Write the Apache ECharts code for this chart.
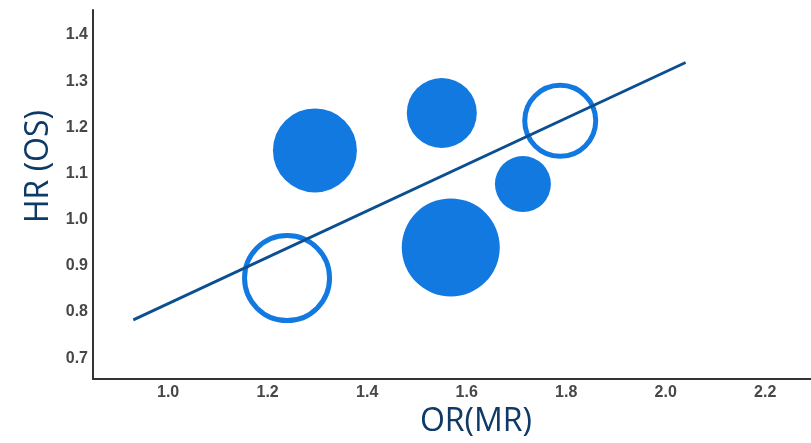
<!DOCTYPE html>
<html>
<head>
<meta charset="utf-8">
<script src="https://cdn.jsdelivr.net/npm/echarts@6/dist/echarts.min.js"></script>
<style>
  html, body { margin: 0; padding: 0; background: #ffffff; }
  #chart { width: 811px; height: 443px; }
</style>
</head>
<body>
<div id="chart"></div>
<script>
// Study-level estimates: OR for major response vs HR for overall survival
const studyOR = [1.295, 1.550, 1.713, 1.568, 1.788, 1.239];
const studyHR = [1.150, 1.231, 1.077, 0.940, 1.214, 0.8735];
// bubble diameter reflects study weight
const studyWeight = [84, 70, 56, 98, 76, 90];
// true = hollow marker
const studyHollow = [false, false, false, false, true, true];

// fitted regression line endpoints
const fitOR = [0.93, 2.04];
const fitHR = [0.783, 1.3405];

// axis tick labels
const xTicks = [1.0, 1.2, 1.4, 1.6, 1.8, 2.0, 2.2];
const yTicks = [0.7, 0.8, 0.9, 1.0, 1.1, 1.2, 1.3, 1.4];

const BLUE = '#1279e1';
const RING = 5;

const filledPts = [];
const hollowPts = [];
studyOR.forEach((x, i) => {
  const pt = [x, studyHR[i], studyWeight[i]];
  (studyHollow[i] ? hollowPts : filledPts).push(pt);
});

const tickLabel = {
  fontFamily: 'Liberation Sans, Arial, sans-serif',
  fontWeight: 'bold',
  fontSize: 16,
  color: '#474747',
  formatter: v => Number(v).toFixed(1)
};

const chart = echarts.init(document.getElementById('chart'), null, { renderer: 'canvas' });
chart.setOption({
  animation: false,
  backgroundColor: '#ffffff',
  grid: { left: 93, right: 0, top: 10, bottom: 58, containLabel: false },
  xAxis: {
    type: 'value',
    min: 0.849,
    max: 2.292,
    name: 'OR(MR)',
    nameLocation: 'middle',
    nameGap: 27,
    nameTextStyle: {
      fontFamily: 'Open Sans, Noto Sans, sans-serif',
      fontSize: 32,
      color: '#0d3a66',
      padding: [0, 0, 0, 48]
    },
    axisLine: { show: true, lineStyle: { color: '#333333', width: 2 } },
    axisTick: { show: false },
    splitLine: { show: false },
    axisLabel: Object.assign({ customValues: xTicks, margin: 6 }, tickLabel)
  },
  yAxis: {
    type: 'value',
    min: 0.655,
    max: 1.454,
    name: 'HR (OS)',
    nameLocation: 'middle',
    nameRotate: 90,
    nameGap: 34,
    nameTextStyle: {
      fontFamily: 'Open Sans, Noto Sans, sans-serif',
      fontSize: 32,
      color: '#0d3a66',
      padding: [0, 0, 0, 56]
    },
    axisLine: { show: true, lineStyle: { color: '#333333', width: 2 } },
    axisTick: { show: false },
    splitLine: { show: false },
    axisLabel: Object.assign({ customValues: yTicks, margin: 5 }, tickLabel)
  },
  series: [
    {
      type: 'scatter',
      data: filledPts,
      symbol: 'circle',
      symbolSize: d => d[2],
      itemStyle: { color: BLUE, opacity: 1 },
      z: 2
    },
    {
      type: 'scatter',
      data: hollowPts,
      symbol: 'circle',
      symbolSize: d => d[2] - RING,
      itemStyle: { color: 'rgba(0,0,0,0)', borderColor: BLUE, borderWidth: RING, opacity: 1 },
      z: 2
    },
    {
      type: 'line',
      data: fitOR.map((x, i) => [x, fitHR[i]]),
      symbol: 'none',
      lineStyle: { color: '#0b4f91', width: 2.8 },
      z: 5
    }
  ]
});
</script>
</body>
</html>
